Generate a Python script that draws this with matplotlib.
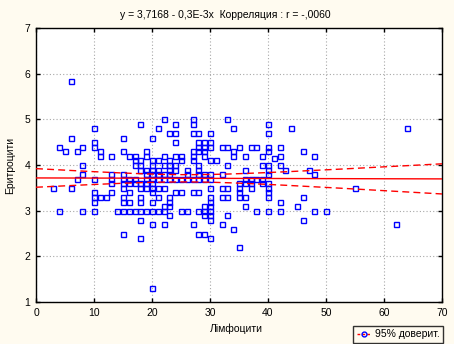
import numpy as np
import matplotlib
matplotlib.use("Agg")
import matplotlib.pyplot as plt
from matplotlib.lines import Line2D

plt.rcParams['font.family'] = ['Liberation Sans', 'DejaVu Sans']

# ---- data ----
points = [
    (3,3.5),(4,3.0),(4,4.4),(5,4.3),(6,5.85),(6,4.6),(6,3.5),(7,4.3),(7,3.7),(8,4.4),(8,4.0),(8,3.8),(8,3.0),
    (10,4.8),(10,4.5),(10,4.4),(10,3.7),(10,3.4),(10,3.3),(10,3.2),(10,3.0),
    (11,4.3),(11,4.2),(11,3.3),(12,3.3),
    (13,4.2),(13,3.8),(13,3.7),(13,3.6),(13,3.4),(14,3.0),
    (15,4.6),(15,4.3),(15,3.8),(15,3.7),(15,3.6),(15,3.5),(15,3.3),(15,3.2),(15,3.0),(15,2.5),
    (16,4.2),(16,3.7),(16,3.6),(16,3.4),(16,3.2),(16,3.0),
    (17,4.2),(17,4.1),(17,4.0),(17,3.7),(17,3.6),(17,3.0),
    (18,4.9),(18,4.1),(18,4.0),(18,3.9),(18,3.6),(18,3.5),(18,3.3),(18,3.2),(18,3.0),(18,2.8),(18,2.4),
    (19,4.3),(19,4.2),(19,3.9),(19,3.8),(19,3.7),(19,3.6),(19,3.5),(19,3.0),
    (20,4.6),(20,4.1),(20,4.0),(20,3.9),(20,3.8),(20,3.7),(20,3.6),(20,3.5),(20,3.4),(20,3.2),(20,3.0),(20,2.7),(20,1.3),
    (21,4.8),(21,4.1),(21,3.9),(21,3.8),(21,3.7),(21,3.5),(21,3.3),(21,3.0),
    (22,5.0),(22,4.2),(22,4.0),(22,3.8),(22,3.7),(22,3.5),(22,3.1),(22,3.0),(22,2.7),
    (23,4.7),(23,4.1),(23,4.0),(23,3.9),(23,3.8),(23,3.7),(23,3.3),(23,3.2),(23,3.1),(23,2.9),
    (24,4.9),(24,4.7),(24,4.5),(24,4.2),(24,4.0),(24,3.9),(24,3.7),(24,3.4),
    (25,4.2),(25,4.1),(25,3.7),(25,3.4),(25,3.0),
    (26,3.9),(26,3.8),(26,3.7),(26,3.0),
    (27,5.0),(27,4.9),(27,4.7),(27,4.3),(27,4.2),(27,4.1),(27,3.7),(27,3.4),(27,2.7),
    (28,4.7),(28,4.5),(28,4.4),(28,4.3),(28,4.0),(28,3.9),(28,3.8),(28,3.7),(28,3.4),(28,3.0),(28,2.5),
    (29,4.5),(29,4.4),(29,4.3),(29,4.2),(29,3.8),(29,3.7),(29,3.1),(29,3.0),(29,2.9),(29,2.5),
    (30,4.7),(30,4.5),(30,4.4),(30,4.1),(30,3.8),(30,3.7),(30,3.5),(30,3.3),(30,3.2),(30,3.1),(30,3.0),(30,2.9),(30,2.8),(30,2.4),
    (31,4.1),
    (32,4.4),(32,3.8),(32,3.5),(32,3.3),(32,2.7),
    (33,5.0),(33,4.4),(33,4.0),(33,3.5),(33,3.3),(33,2.9),
    (34,4.8),(34,4.3),(34,4.2),(34,2.6),
    (35,4.4),(35,3.6),(35,3.5),(35,3.4),(35,3.3),(35,2.2),
    (36,4.2),(36,3.9),(36,3.7),(36,3.6),(36,3.3),(36,3.1),
    (37,4.4),(37,3.7),(37,3.6),(37,3.5),
    (38,4.4),(38,3.7),(38,3.0),
    (39,4.2),(39,4.0),(39,3.7),(39,3.6),
    (40,4.9),(40,4.7),(40,4.4),(40,4.3),(40,4.0),(40,3.9),(40,3.8),(40,3.6),(40,3.5),(40,3.4),(40,3.3),(40,3.0),
    (41,4.15),
    (42,4.4),(42,4.2),(42,4.0),(42,3.2),(42,3.0),
    (43,3.9),(44,4.8),(45,3.1),
    (46,4.3),(46,3.3),(46,2.8),
    (47,3.9),
    (48,4.2),(48,3.8),(48,3.0),
    (50,3.0),(55,3.5),(62,2.7),(64,4.8),
]
lymph = np.array([p[0] for p in points], dtype=float)
eryth = np.array([p[1] for p in points], dtype=float)

intercept = 3.7168
slope = -0.0003
t_crit = 1.97

x_ticks = [0, 10, 20, 30, 40, 50, 60, 70]
y_ticks = [1, 2, 3, 4, 5, 6, 7]

title = "y = 3,7168 - 0,3E-3x  Корреляция : r = -,0060"
xlabel = "Лімфоцити"
ylabel = "Еритроцити"
legend_label = "95% доверит."

# ---- figure ----
bg = '#FFFBF0'
fig = plt.figure(figsize=(4.54, 3.44), dpi=100, facecolor=bg)
ax = fig.add_axes([36/454, 1-302/344, 406/454, 274/344])
ax.set_facecolor('white')

ax.plot(lymph, eryth, linestyle='none', marker='s', markersize=3.6,
        markerfacecolor='none', markeredgecolor='#0000FF', markeredgewidth=1.0, zorder=3)

xs = np.linspace(0, 70, 200)
n = len(lymph)
xbar = lymph.mean()
sxx = ((lymph - xbar) ** 2).sum()
resid = eryth - (intercept + slope * lymph)
s = np.sqrt((resid ** 2).sum() / (n - 2))
fit = intercept + slope * xs
half = t_crit * s * np.sqrt(1.0 / n + (xs - xbar) ** 2 / sxx)

ax.plot(xs, fit, color='#FF0000', linewidth=1.0, zorder=4)
ax.plot(xs, fit + half, color='#FF0000', linewidth=1.0, linestyle=(0, (5, 3)), zorder=4)
ax.plot(xs, fit - half, color='#FF0000', linewidth=1.0, linestyle=(0, (5, 3)), zorder=4)

ax.set_xlim(0, 70)
ax.set_ylim(1, 7)
ax.set_xticks(x_ticks)
ax.set_yticks(y_ticks)
ax.grid(True, color='#A8A8A8', linestyle=(0, (1, 2)), linewidth=0.8)
ax.set_axisbelow(True)
ax.tick_params(direction='in', length=3, width=1, labelsize=7.5, colors='black',
               top=True, right=True, pad=4)
for sp in ax.spines.values():
    sp.set_color('black')
    sp.set_linewidth(1.0)

fig.text(0.497, 1-15/344, title, ha='center', va='center', fontsize=7.5)
fig.text(236/454, 1-329/344, xlabel, ha='center', va='center', fontsize=7.5)
fig.text(10/454, 1-165/344, ylabel, ha='center', va='center', fontsize=7.5, rotation=90)

handle = Line2D([0], [0], color='#FF0000', linestyle=(0, (2, 1.5)), linewidth=1.0,
                marker='o', markersize=3.5, markerfacecolor='none', markeredgecolor='#0000FF')
leg = fig.legend([handle], [legend_label], loc='lower right',
                 bbox_to_anchor=(443/454, 1/344), borderaxespad=0.0, fontsize=7.5, frameon=True,
                 fancybox=False, edgecolor='black', facecolor=bg, handlelength=1.4,
                 borderpad=0.35, handletextpad=0.3)
leg.get_frame().set_linewidth(1.0)

fig.savefig('out.png', dpi=100, facecolor=bg)
